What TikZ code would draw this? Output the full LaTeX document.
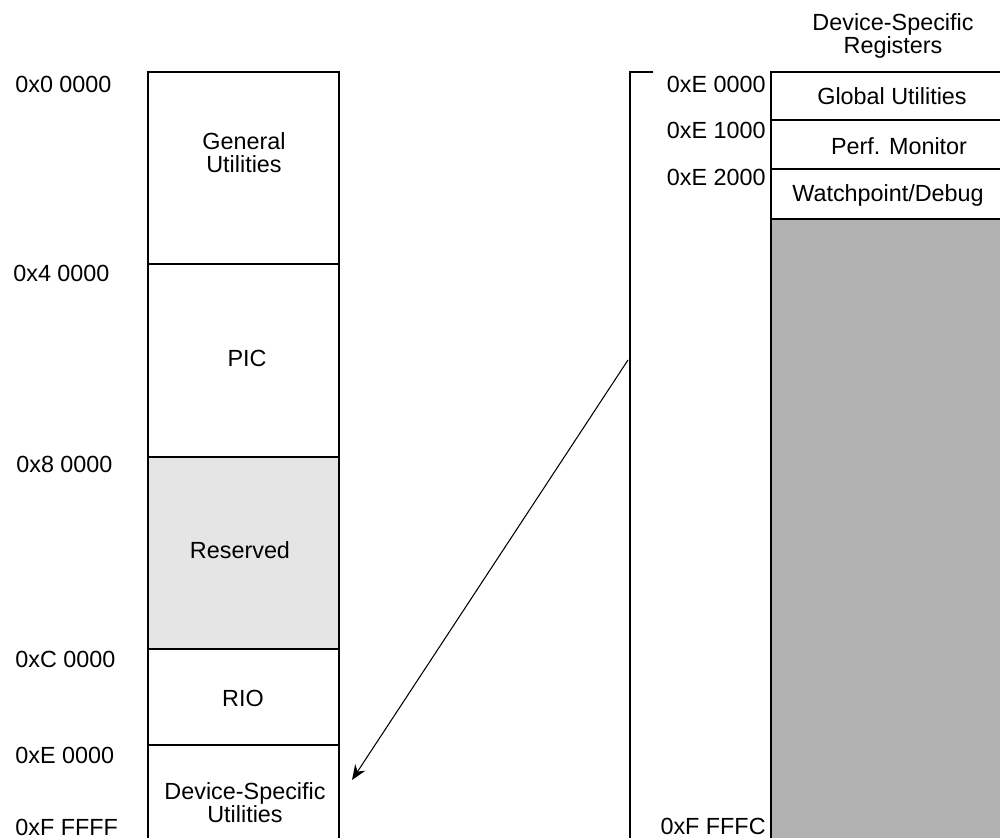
\documentclass[tikz,border=0pt]{standalone}
\usepackage{fontspec}
\setmainfont{Liberation Sans}
\usetikzlibrary{arrows.meta}
\newcommand{\mapfont}{\fontsize{13.3pt}{13.1pt}\selectfont}

\begin{document}
\begin{tikzpicture}[x=0.02cm, y=-0.02cm, font=\mapfont,
  wall/.style={line width=1.1pt},
  addr/.style={inner sep=0pt},
  region/.style={align=center, inner sep=0pt},
%  grid lines were checked against the scan
  ]
  \useasboundingbox (0,0) rectangle (1000,838);

  % full map
  \fill[black!10] (148,457) rectangle (339,649);
  \draw[wall] (148,838) -- (148,72) -- (339,72) -- (339,838);
  \foreach \y in {264,457,649,745}
    \draw[wall] (148,\y) -- (339,\y);

  \node[region] (gen) at (244,153) {General\\Utilities};
  \node[region] (pic) at (247,358) {PIC};
  \node[region] (res) at (240,550) {Reserved};
  \node[region] (rio) at (243,698) {RIO};
  \node[region] (dsu) at (245,803) {Device-Specific\\Utilities};

  \node[addr, anchor=west] (a0) at (15,84) {0x0 0000};
  \node[addr, anchor=west] (a4) at (13,273) {0x4 0000};
  \node[addr, anchor=west] (a8) at (16,464) {0x8 0000};
  \node[addr, anchor=west] (ac) at (15,659) {0xC 0000};
  \node[addr, anchor=west] (ae) at (15,755) {0xE 0000};
  \node[addr, anchor=west] (af) at (15,827) {0xF FFFF};

  % device-specific block
  \draw[wall] (653,72) -- (630,72) -- (630,838);
  \fill[black!30] (771,219) rectangle (1000,838);
  \draw[wall] (771,838) -- (771,72) -- (1000,72);
  \foreach \y in {120,169,219}
    \draw[wall] (771,\y) -- (1000,\y);

  \node[region] (title) at (893,36) {Device-Specific\\Registers};
  \node[region] (glob) at (892,96) {Global Utilities};
  \node[region] (perf) at (899,146) {Perf. Monitor};
  \node[region] (dbg) at (888,195) {Watchpoint/Debug};

  \node[addr, anchor=east] (re0) at (766,84) {0xE 0000};
  \node[addr, anchor=east] (re1) at (766,130) {0xE 1000};
  \node[addr, anchor=east] (re2) at (766,177) {0xE 2000};
  \node[addr, anchor=east] (ref) at (766,826) {0xF FFFC};

  \coordinate (from) at (628,360);
  \coordinate (to) at (352,780);
  \draw[line width=0.6pt, -{Stealth[length=3mm, width=2.4mm]}] (from) -- (to);
\end{tikzpicture}
\end{document}
